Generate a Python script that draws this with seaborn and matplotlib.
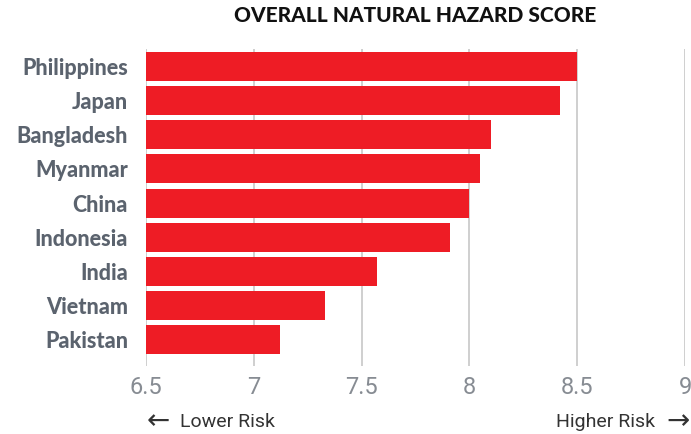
import matplotlib
matplotlib.use("Agg")
import matplotlib.pyplot as plt
import seaborn as sns
import pandas as pd

countries = ["Philippines", "Japan", "Bangladesh", "Myanmar", "China",
             "Indonesia", "India", "Vietnam", "Pakistan"]
scores = [8.5, 8.42, 8.1, 8.05, 8.0, 7.91, 7.57, 7.33, 7.12]
x_ticks = [6.5, 7, 7.5, 8, 8.5, 9]
x_tick_labels = ["6.5", "7", "7.5", "8", "8.5", "9"]
title = "OVERALL NATURAL HAZARD SCORE"
low_label = "Lower Risk"
high_label = "Higher Risk"
left_arrow = "\u2190"
right_arrow = "\u2192"

sns.set_theme(style="white")
plt.rcParams['font.family'] = ['Roboto', 'DejaVu Sans']

df = pd.DataFrame({"country": countries, "score": scores})

fig = plt.figure(figsize=(6.91, 4.34), dpi=100)
ax = fig.add_axes([146 / 691, 1 - 366 / 434, (685 - 146) / 691, (366 - 49) / 434])

sns.barplot(data=df, x="score", y="country", orient="h", color="#ee1c25",
            saturation=1, width=0.85, ax=ax, zorder=2, edgecolor="none")

ax.set_xlim(6.5, 9)
ax.set_ylim(8.78, -0.52)
ax.set_xticks(x_ticks)
ax.set_xticklabels(x_tick_labels)
ax.grid(axis="x", color="#cfcfcf", linewidth=1.4, zorder=0)
ax.grid(axis="y", visible=False)
ax.set_axisbelow(True)
for s in ax.spines.values():
    s.set_visible(False)
ax.set_xlabel("")
ax.set_ylabel("")
ax.tick_params(axis="x", length=0, pad=7, labelsize=17, labelcolor="#878c93")
ax.tick_params(axis="y", length=0, pad=13)
for lab in ax.get_xticklabels():
    lab.set_fontfamily(['Roboto', 'DejaVu Sans'])
    lab.set_fontweight('normal')
for lab in ax.get_yticklabels():
    lab.set_fontfamily(['Lato', 'DejaVu Sans'])
    lab.set_fontweight('black')
    lab.set_fontsize(15.5)
    lab.set_color('#5b636e')

fig.text(415 / 691, 1 - 16 / 434, title, ha="center", va="center",
         fontsize=15, fontweight="black", color="#111111",
         family=['Lato', 'DejaVu Sans'])

fig.text(147 / 691, 1 - 421 / 434, left_arrow, ha="left", va="center",
         fontsize=20, color="#333333", family=['DejaVu Sans'])
fig.text(180 / 691, 1 - 422 / 434, low_label, ha="left", va="center",
         fontsize=14, color="#333333", family=['Roboto', 'DejaVu Sans'])
fig.text(655 / 691, 1 - 422 / 434, high_label, ha="right", va="center",
         fontsize=14, color="#333333", family=['Roboto', 'DejaVu Sans'])
fig.text(690 / 691, 1 - 421 / 434, right_arrow, ha="right", va="center",
         fontsize=20, color="#333333", family=['DejaVu Sans'])

fig.savefig("out.png", dpi=100)
